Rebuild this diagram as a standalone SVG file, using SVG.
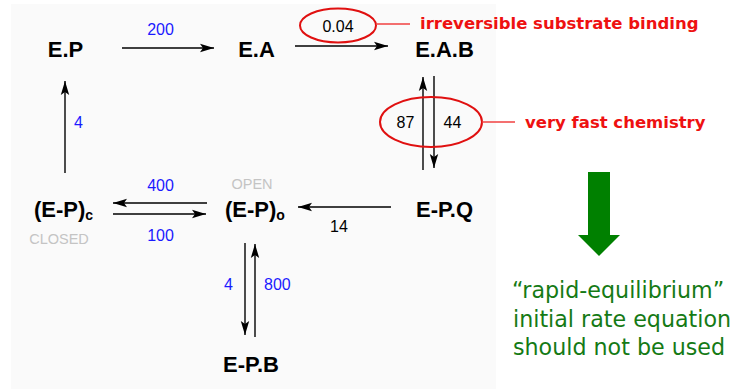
<svg xmlns="http://www.w3.org/2000/svg" width="735" height="389" viewBox="0 0 735 389">
<defs>
<marker id="ah" markerUnits="userSpaceOnUse" markerWidth="16" markerHeight="12" viewBox="0 0 16 12" refX="14" refY="6" orient="auto">
<path d="M0,1.8 L14,6 L0,10.2 L3,6 Z" fill="#000"/>
</marker>
<style>
.node{font-family:"Liberation Sans",Arial,sans-serif;font-weight:bold;font-size:22px;fill:#000}
.rate{font-family:"Liberation Sans",Arial,sans-serif;font-size:16px;fill:#1a1aff}
.rateb{font-family:"Liberation Sans",Arial,sans-serif;font-size:16px;fill:#000}
.state{font-family:"Liberation Sans",Arial,sans-serif;font-size:14.5px;fill:#c4c4c4}
.note{font-family:"DejaVu Sans",Verdana,sans-serif;font-weight:bold;font-size:16.5px;fill:#ee1111}
.concl{font-family:"DejaVu Sans",Verdana,sans-serif;font-size:22.2px;fill:#157a15}
.arr{stroke:#000;stroke-width:1.4;fill:none;marker-end:url(#ah)}
.ring{stroke:#e01010;stroke-width:2;fill:none}
.lead{stroke:#f04040;stroke-width:1.3}
</style>
</defs>
<rect x="11" y="4" width="485" height="385" fill="#fafafa"/>

<g id="connectors">
<line class="arr" x1="122" y1="48" x2="214" y2="48"/>
<line class="arr" x1="295" y1="46" x2="388" y2="46"/>
<line class="arr" x1="423" y1="170" x2="423" y2="77"/>
<line class="arr" x1="434" y1="76" x2="434" y2="168"/>
<line class="arr" x1="65" y1="173" x2="65" y2="81"/>
<line class="arr" x1="207" y1="203" x2="113" y2="203"/>
<line class="arr" x1="113" y1="214" x2="206" y2="214"/>
<line class="arr" x1="391" y1="207" x2="298" y2="207"/>
<line class="arr" x1="245" y1="243" x2="245" y2="335"/>
<line class="arr" x1="255" y1="337" x2="255" y2="244"/>
</g>

<g id="rates">
<text class="rate" x="160.5" y="35" text-anchor="middle">200</text>
<text class="rate" x="74" y="128">4</text>
<text class="rate" x="160.5" y="191" text-anchor="middle">400</text>
<text class="rate" x="160.5" y="241" text-anchor="middle">100</text>
<text class="rate" x="228.5" y="290" text-anchor="middle">4</text>
<text class="rate" x="264" y="290">800</text>
<text class="rateb" x="339" y="232" text-anchor="middle">14</text>
</g>

<g id="node-EP"><text class="node" x="65.5" y="57" text-anchor="middle">E.P</text></g>
<g id="node-EA"><text class="node" x="256.5" y="57" text-anchor="middle">E.A</text></g>
<g id="node-EAB"><text class="node" x="444.5" y="57" text-anchor="middle">E.A.B</text></g>
<g id="node-EPc"><text class="node" x="34" y="217">(E-P)<tspan font-size="14" dy="3">c</tspan></text>
<text class="state" x="59" y="244" text-anchor="middle">CLOSED</text></g>
<g id="node-EPo"><text class="node" x="225" y="217">(E-P)<tspan font-size="14" dy="3">o</tspan></text>
<text class="state" x="252" y="189" text-anchor="middle">OPEN</text></g>
<g id="node-EPQ"><text class="node" x="444.5" y="217" text-anchor="middle">E-P.Q</text></g>
<g id="node-EPB"><text class="node" x="251" y="372" text-anchor="middle">E-P.B</text></g>

<g id="annotation-binding">
<ellipse class="ring" cx="338" cy="25.5" rx="38" ry="17"/>
<text class="rateb" x="338" y="32" text-anchor="middle">0.04</text>
<line class="lead" x1="376" y1="24" x2="410" y2="24"/>
<text class="note" x="420" y="29">irreversible substrate binding</text>
</g>

<g id="annotation-chemistry">
<ellipse class="ring" cx="431" cy="122" rx="51" ry="25"/>
<text class="rateb" x="405.5" y="128" text-anchor="middle">87</text>
<text class="rateb" x="452.5" y="128" text-anchor="middle">44</text>
<line class="lead" x1="482" y1="122" x2="515" y2="122"/>
<text class="note" x="525" y="128">very fast chemistry</text>
</g>

<g id="conclusion">
<polygon points="588,172 610,172 610,235 620,235 599,256 578,235 588,235" fill="#008000"/>
<text class="concl" x="512" y="298">“rapid-equilibrium”</text>
<text class="concl" x="513" y="327">initial rate equation</text>
<text class="concl" x="513" y="355">should not be used</text>
</g>
</svg>
